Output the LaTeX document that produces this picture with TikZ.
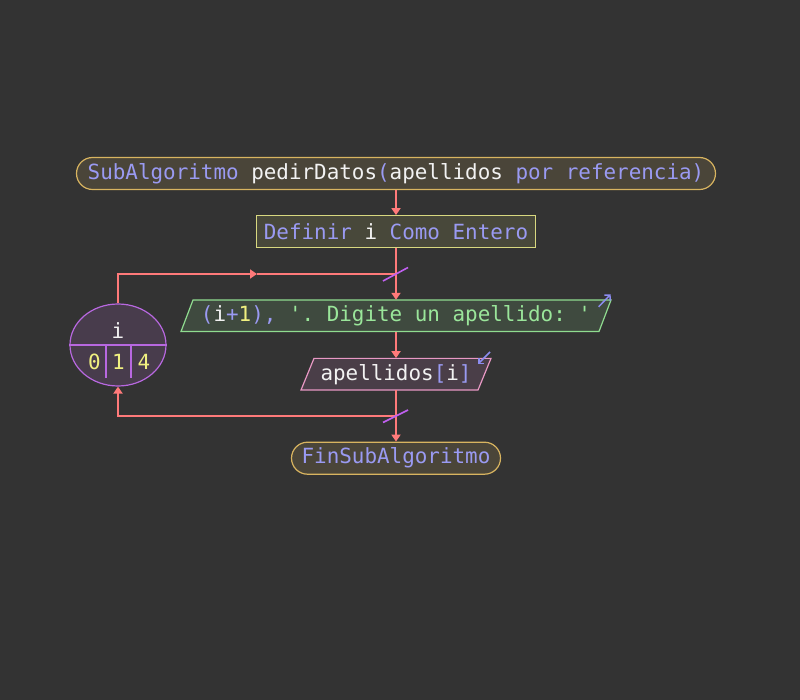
\documentclass[tikz,border=0pt]{standalone}
\usepackage{fontspec}
\setmonofont{DejaVu Sans Mono}
\usetikzlibrary{arrows.meta,shapes.misc,shapes.geometric,calc}
\definecolor{bg}{HTML}{333333}
\definecolor{kw}{HTML}{9A9AF2}
\definecolor{tx}{HTML}{F2F2F2}
\definecolor{gr}{HTML}{9AE69A}
\definecolor{num}{HTML}{F0F080}
\definecolor{termf}{HTML}{4A4539}
\definecolor{termb}{HTML}{D8B460}
\definecolor{deff}{HTML}{48483A}
\definecolor{defb}{HTML}{D8D880}
\definecolor{outf}{HTML}{3F4A3F}
\definecolor{outb}{HTML}{90DC90}
\definecolor{inf}{HTML}{4A3E48}
\definecolor{inb}{HTML}{E898C4}
\definecolor{cirf}{HTML}{483C4C}
\definecolor{cirb}{HTML}{B868E0}
\definecolor{ln}{HTML}{FF7A7A}
\definecolor{sl}{HTML}{C060F0}
\definecolor{ic}{HTML}{8C8CF0}
\begin{document}
\begin{tikzpicture}[x=1pt,y=-1pt,
  txt/.style={font=\ttfamily\fontsize{20.9}{24}\selectfont, text=tx},
  term/.style={txt, rounded rectangle, draw=termb, fill=termf, line width=1.2pt, minimum height=32pt, inner sep=0pt},
  defbox/.style={txt, rectangle, draw=defb, fill=deff, line width=1.2pt, minimum height=32pt, inner sep=0pt},
  plain/.style={txt, inner sep=0pt, minimum height=31.5pt},
  outshape/.style={draw=outb, fill=outf, line width=1.2pt},
  inshape/.style={draw=inb, fill=inf, line width=1.2pt},
  circ/.style={txt, ellipse, draw=cirb, fill=cirf, line width=1.2pt, minimum width=96pt, minimum height=82pt, inner sep=0pt},
  conn/.style={draw=ln, line width=2pt, -{Triangle[width=9pt,length=7pt]}},
  line/.style={draw=ln, line width=2pt},
  slash/.style={draw=sl, line width=1.6pt},
  icon/.style={draw=ic, line width=1.5pt, -{Straight Barb[length=4pt,width=8pt]}},
  cell/.style={draw=cirb, line width=1.2pt}
]
\fill[bg] (0,0) rectangle (800,700);
\useasboundingbox (0,0) rectangle (800,700);

% start
\node[term, minimum width=639pt] (start) at (396,173.5)
  {\textcolor{kw}{SubAlgoritmo} pedirDatos\textcolor{kw}{(}apellidos \textcolor{kw}{por referencia)}};

% definir
\node[defbox, minimum width=279pt] (def) at (396,231.7)
  {\textcolor{kw}{Definir} i \textcolor{kw}{Como Entero}};

% output parallelogram
\coordinate (outc) at (396,315.75);
\draw[outshape] ($(outc)+(-203,-15.75)$) -- ($(outc)+(215,-15.75)$) -- ($(outc)+(203,15.75)$) -- ($(outc)+(-215,15.75)$) -- cycle;
\node[plain, minimum width=406pt] (out) at (outc)
  {\textcolor{kw}{(}i\textcolor{kw}{+}\textcolor{num}{1}\textcolor{kw}{),} \textcolor{gr}{'. Digite un apellido: '}};
\draw[icon] ($(outc)+(202.7,-9)$) -- ($(outc)+(214.7,-21.5)$);

% input parallelogram
\coordinate (inc) at (396,374.2);
\draw[inshape] ($(inc)+(-82,-15.85)$) -- ($(inc)+(95,-15.85)$) -- ($(inc)+(82,15.85)$) -- ($(inc)+(-95,15.85)$) -- cycle;
\node[plain, minimum width=164pt, minimum height=31.7pt] (in) at (inc)
  {apellidos\textcolor{kw}{[}i\textcolor{kw}{]}};
\draw[icon] ($(inc)+(94,-22.2)$) -- ($(inc)+(82,-10.2)$);

% end
\node[term, minimum width=209pt] (end) at (396,458.2) {\textcolor{kw}{FinSubAlgoritmo}};

% loop counter
\node[circ] (cir) at (118,345) {};
\draw[cell] (cir.west) -- (cir.east);
\draw[cell] ($(cir.center)+(-12,0)$) -- ($(cir.center)+(-12,33)$);
\draw[cell] ($(cir.center)+(13,0)$) -- ($(cir.center)+(13,33)$);
\node[txt, inner sep=0pt] (iv) at (118,331) {i};
\node[txt, inner sep=0pt, text=num] (v0) at (94.3,361.7) {0};
\node[txt, inner sep=0pt, text=num] (v1) at (118.5,361.7) {1};
\node[txt, inner sep=0pt, text=num] (v4) at (144,361.7) {4};

% connectors
\coordinate (j1) at (396,274);
\coordinate (m1) at (257,274);
\coordinate (j2) at (396,416);
\draw[conn] (start.south) -- (def.north);
\draw[conn] (def.south) -- (out.north);
\draw[conn] (cir.north) |- (m1);
\draw[line] (m1) -- (j1);
\draw[conn] (out.south) -- (in.north);
\draw[conn] (in.south) -- (end.north);
\draw[conn] (j2) -| (cir.south);

% slashes
\draw[slash] ($(j1)+(-13,7)$) -- ($(j1)+(12,-6.5)$);
\draw[slash] ($(j2)+(-13,6.5)$) -- ($(j2)+(12,-6)$);
\end{tikzpicture}
\end{document}
